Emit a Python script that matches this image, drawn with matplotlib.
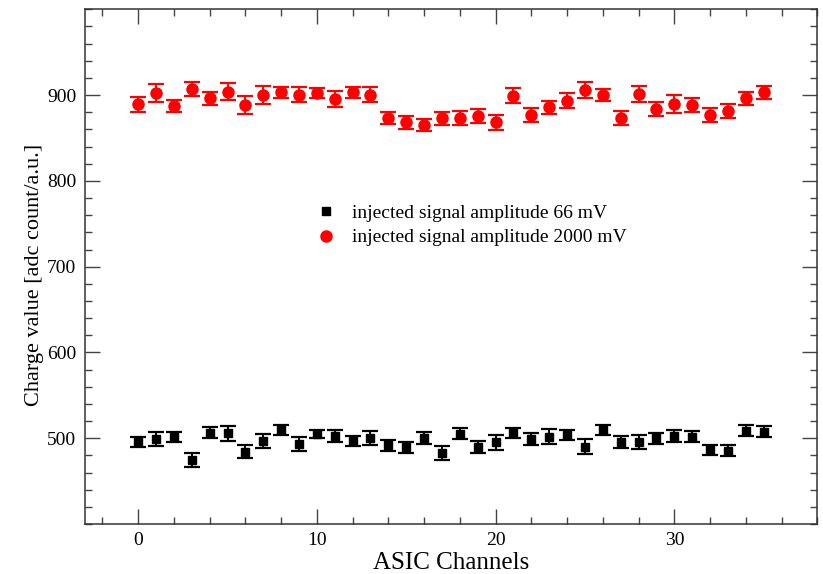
import matplotlib
matplotlib.use("Agg")
import matplotlib.pyplot as plt
from matplotlib.lines import Line2D
from matplotlib.ticker import MultipleLocator

plt.rcParams['font.family'] = ['Liberation Serif', 'DejaVu Serif']

channels = list(range(36))

charge_66mV = [496.0, 498.8, 501.9, 474.8, 506.5, 505.8, 484.4, 496.9, 509.7, 493.0,
               505.0, 502.7, 496.9, 500.0, 491.9, 489.5, 500.0, 482.6, 505.6, 490.2,
               495.3, 505.8, 499.2, 501.9, 503.8, 490.2, 509.7, 496.0, 496.0, 500.0,
               502.7, 501.9, 486.4, 485.6, 508.8, 507.7]
err_66mV = [6.0, 8.0, 6.0, 8.5, 6.4, 8.5, 7.9, 8.7, 5.8, 8.3,
            4.8, 7.1, 5.8, 8.3, 6.2, 6.4, 6.8, 8.1, 6.2, 6.8,
            8.7, 5.8, 6.6, 8.7, 6.0, 9.0, 5.4, 6.8, 8.3, 6.2,
            7.0, 6.2, 5.8, 6.2, 6.2, 6.2]

charge_2000mV = [889.5, 902.3, 887.6, 907.0, 896.0, 903.8, 888.4, 900.0, 903.0, 900.3,
                 902.7, 895.3, 903.0, 900.3, 872.8, 868.1, 865.1, 872.8, 873.0, 875.9,
                 868.1, 899.2, 876.7, 885.6, 893.4, 905.8, 900.0, 872.8, 901.2, 883.7,
                 889.5, 888.7, 876.7, 881.7, 896.0, 903.0]
err_2000mV = [8.7, 10.0, 7.0, 7.7, 8.0, 9.7, 10.0, 10.4, 6.8, 8.7,
              6.0, 9.0, 6.4, 8.9, 7.0, 7.7, 7.3, 7.3, 8.1, 7.9,
              8.7, 8.7, 8.3, 7.9, 9.0, 8.9, 7.3, 8.1, 9.0, 8.5,
              10.2, 8.1, 7.7, 8.1, 7.3, 7.1]

label_66 = 'injected signal amplitude 66 mV'
label_2000 = 'injected signal amplitude 2000 mV'

fig = plt.figure(figsize=(8.23, 5.74), dpi=100)
ax = fig.add_axes([0.1027, 0.0869, 0.8904, 0.897])

ax.errorbar(channels, charge_66mV, yerr=err_66mV, fmt='s', color='black',
            ecolor='black', markersize=6, capsize=5.7, elinewidth=1.4,
            capthick=1.6)
ax.errorbar(channels, charge_2000mV, yerr=err_2000mV, fmt='o', color='#ff0000',
            ecolor='#ff0000', markersize=8, capsize=5.5, elinewidth=1.4,
            capthick=1.6)

ax.set_xlim(-3, 38)
ax.set_ylim(400, 1000)
ax.set_yticks([500, 600, 700, 800, 900])
ax.yaxis.set_minor_locator(MultipleLocator(20))
ax.xaxis.set_major_locator(MultipleLocator(10))
ax.xaxis.set_minor_locator(MultipleLocator(2))
ax.tick_params(which='both', direction='in', top=True, right=True,
               labelsize=14, width=1.0, color='#444444', pad=6)
ax.tick_params(which='major', length=10.8)
ax.tick_params(which='minor', length=5)
for s in ax.spines.values():
    s.set_linewidth(1.1)
    s.set_color('#333333')

ax.set_xlabel('ASIC Channels', fontsize=18, labelpad=1.5)
ax.set_ylabel('Charge value [adc count/a.u.]', fontsize=16)
ax.yaxis.set_label_coords(-0.0555, 0.4838)

handles = [
    Line2D([], [], linestyle='none', marker='s', color='black', markersize=6),
    Line2D([], [], linestyle='none', marker='o', color='#ff0000', markersize=8),
]
ax.legend(handles, [label_66, label_2000], loc='upper left',
          bbox_to_anchor=(0.305, 0.636), frameon=False, fontsize=14,
          handletextpad=0.86, labelspacing=0.35, handlelength=1.0,
          borderaxespad=0)

fig.savefig('out.png', dpi=100)
